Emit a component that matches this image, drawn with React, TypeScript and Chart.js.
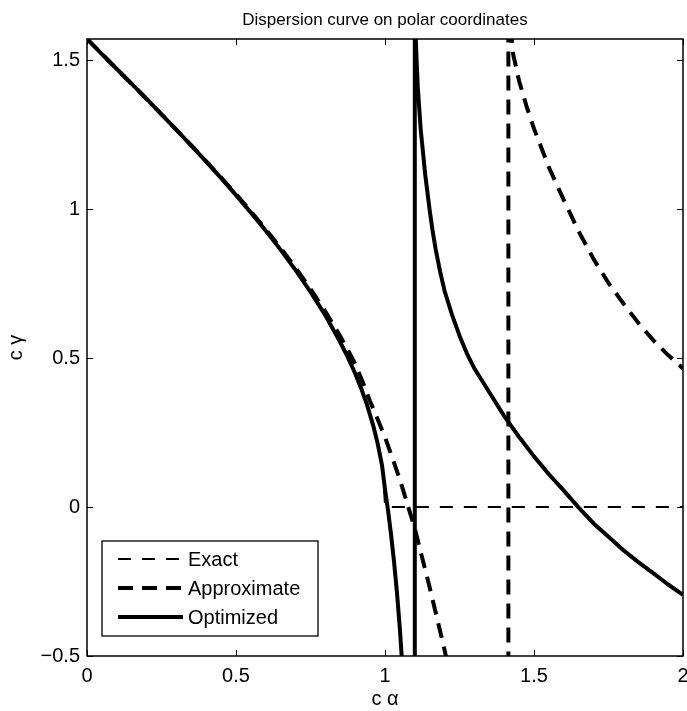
import React, { useEffect, useRef } from "react";
import { Chart, registerables } from "chart.js";

Chart.register(...registerables);

const TITLE = "Dispersion curve on polar coordinates";
const X_LABEL = "c α";
const Y_LABEL = "c γ";

const X_MIN = 0;
const X_MAX = 2;
const Y_MIN = -0.5;
const Y_MAX = 1.5708;
const X_TICKS = [0, 0.5, 1, 1.5, 2];
const Y_TICKS = [-0.5, 0, 0.5, 1, 1.5];

const SERIES_NAMES = ["Exact", "Approximate", "Optimized"];

// Exact
const exactX = [0, 0.05, 0.1, 0.15, 0.2, 0.25, 0.3, 0.35, 0.4, 0.45, 0.5, 0.55, 0.6, 0.65, 0.7, 0.75, 0.8, 0.85, 0.875, 0.9, 0.92, 0.94, 0.96, 0.975, 0.985, 0.993, 1.0, 1.5, 2.0];
const exactY = [1.571, 1.521, 1.47, 1.42, 1.37, 1.318, 1.266, 1.213, 1.159, 1.104, 1.047, 0.988, 0.927, 0.863, 0.795, 0.723, 0.644, 0.555, 0.505, 0.451, 0.403, 0.348, 0.284, 0.224, 0.173, 0.118, 0, 0, 0];

// Approximate
const approxX = [0, 0.05, 0.1, 0.15, 0.2, 0.25, 0.3, 0.35, 0.4, 0.45, 0.5, 0.55, 0.6, 0.65, 0.7, 0.75, 0.8, 0.85, 0.875, 0.9, 0.925, 0.95, 1.0, 1.05, 1.1, 1.15, 1.2, 1.25, 1.3, 1.414, 1.414, 1.418, 1.43, 1.45, 1.475, 1.5, 1.55, 1.6, 1.65, 1.7, 1.75, 1.8, 1.85, 1.9, 1.95, 2.0];
const approxY = [1.571, 1.521, 1.47, 1.42, 1.37, 1.318, 1.266, 1.214, 1.16, 1.106, 1.05, 0.992, 0.932, 0.869, 0.803, 0.732, 0.656, 0.573, 0.528, 0.48, 0.42, 0.355, 0.235, 0.092, -0.072, -0.27, -0.48, -0.72, -1.05, -4, 4, 1.65, 1.52, 1.43, 1.345, 1.27, 1.14, 1.03, 0.925, 0.832, 0.752, 0.683, 0.618, 0.56, 0.51, 0.465];

// Optimized
const optX = [0, 0.05, 0.1, 0.15, 0.2, 0.25, 0.3, 0.35, 0.4, 0.45, 0.5, 0.55, 0.6, 0.65, 0.7, 0.75, 0.8, 0.85, 0.875, 0.9, 0.92, 0.94, 0.96, 0.975, 0.99, 1.0, 1.01, 1.02, 1.03, 1.04, 1.05, 1.06, 1.07, 1.08, 1.1, 1.1, 1.103, 1.106, 1.11, 1.12, 1.135, 1.15, 1.16, 1.17, 1.185, 1.2, 1.225, 1.25, 1.275, 1.3, 1.35, 1.4, 1.45, 1.5, 1.55, 1.6, 1.65, 1.7, 1.75, 1.8, 1.85, 1.9, 1.95, 2.0];
const optY = [1.571, 1.52, 1.47, 1.42, 1.37, 1.318, 1.266, 1.213, 1.159, 1.104, 1.047, 0.988, 0.927, 0.863, 0.795, 0.722, 0.643, 0.553, 0.503, 0.448, 0.398, 0.342, 0.275, 0.215, 0.14, 0.06, -0.01, -0.09, -0.18, -0.285, -0.41, -0.56, -0.74, -0.97, -3, 3, 1.58, 1.5, 1.41, 1.265, 1.115, 0.995, 0.925, 0.865, 0.79, 0.725, 0.645, 0.575, 0.515, 0.465, 0.385, 0.305, 0.235, 0.17, 0.11, 0.055, -0.002, -0.055, -0.1, -0.145, -0.185, -0.222, -0.26, -0.295];

const FONT = "'Liberation Sans', Arial, Helvetica, sans-serif";

const STYLES = [
  { width: 1.8, dash: [13, 11] },
  { width: 4, dash: [15, 9] },
  { width: 4, dash: [] as number[] },
];

function pts(xs: number[], ys: number[]) {
  return xs.map((x, i) => ({ x, y: ys[i] }));
}

const fmt = (v: number) => String(v).replace("-", "\u2212");

const boxPlugin = {
  id: "matlabBox",
  afterDraw(chart: any) {
    const { ctx, chartArea: a, scales } = chart;
    const xs = scales.x;
    const ys = scales.y;
    ctx.save();
    ctx.strokeStyle = "#000";
    ctx.lineWidth = 1;
    const tl = 6;
    ctx.beginPath();
    for (const v of X_TICKS) {
      const px = Math.round(xs.getPixelForValue(v)) + 0.5;
      ctx.moveTo(px, a.bottom);
      ctx.lineTo(px, a.bottom - tl);
      ctx.moveTo(px, a.top);
      ctx.lineTo(px, a.top + tl);
    }
    for (const v of Y_TICKS) {
      const py = Math.round(ys.getPixelForValue(v)) + 0.5;
      ctx.moveTo(a.left, py);
      ctx.lineTo(a.left + tl, py);
      ctx.moveTo(a.right, py);
      ctx.lineTo(a.right - tl, py);
    }
    ctx.stroke();
    ctx.lineWidth = 1.5;
    ctx.strokeRect(a.left, a.top, a.right - a.left, a.bottom - a.top);

    // legend
    const lx = a.left + 15;
    const ly = a.bottom - 115;
    const lw = 216;
    const lh = 95;
    ctx.fillStyle = "#fff";
    ctx.fillRect(lx, ly, lw, lh);
    ctx.lineWidth = 1.3;
    ctx.strokeRect(lx, ly, lw, lh);
    ctx.font = "20px " + FONT;
    ctx.textBaseline = "middle";
    ctx.textAlign = "left";
    ctx.fillStyle = "#000";
    SERIES_NAMES.forEach((name, i) => {
      const yy = ly + 18 + i * 29;
      const st = STYLES[i];
      ctx.beginPath();
      ctx.lineWidth = st.width;
      ctx.setLineDash(st.dash);
      ctx.moveTo(lx + 16, yy);
      ctx.lineTo(lx + 81, yy);
      ctx.stroke();
      ctx.setLineDash([]);
      ctx.fillText(name, lx + 86, yy + 1);
    });
    ctx.restore();
  },
};

export default function App() {
  const ref = useRef<HTMLCanvasElement>(null);
  useEffect(() => {
    document.body.style.margin = "0";
    const canvas = ref.current!;
    const series = [pts(exactX, exactY), pts(approxX, approxY), pts(optX, optY)];
    const chart = new Chart(canvas, {
      type: "scatter",
      data: {
        datasets: series.map((d, i) => ({
          label: SERIES_NAMES[i],
          data: d,
          showLine: true,
          borderColor: "#000",
          backgroundColor: "#000",
          borderWidth: STYLES[i].width,
          borderDash: STYLES[i].dash,
          borderJoinStyle: "round",
          pointRadius: 0,
          tension: 0,
          fill: false,
          clip: 0,
        })),
      },
      options: {
        animation: false,
        responsive: false,
        devicePixelRatio: 1,
        layout: { padding: { left: 0, right: 4, top: 0, bottom: 0 } },
        font: { family: FONT },
        plugins: {
          legend: { display: false },
          tooltip: { enabled: false },
          title: {
            display: true,
            fullSize: false,
            text: TITLE,
            color: "#000",
            font: { family: FONT, size: 17, weight: "normal", lineHeight: 1.25 },
            padding: { top: 10, bottom: 7.75 },
          },
        },
        scales: {
          x: {
            type: "linear",
            min: X_MIN,
            max: X_MAX,
            afterBuildTicks: (s: any) => {
              s.ticks = X_TICKS.map((v) => ({ value: v }));
            },
            afterFit: (s: any) => {
              s.height = 55;
              s.paddingLeft = 0;
              s.paddingRight = 0;
            },
            grid: { display: false, drawTicks: false, tickLength: 0 },
            border: { display: false },
            ticks: {
              color: "#000",
              font: { family: FONT, size: 20 },
              padding: 8,
              maxRotation: 0,
              autoSkip: false,
              callback: (v: any) => fmt(Number(v)),
            },
            title: {
              display: true,
              text: X_LABEL,
              color: "#000",
              font: { family: FONT, size: 20, lineHeight: 1 },
              padding: { top: 0, bottom: 2 },
            },
          },
          y: {
            type: "linear",
            min: Y_MIN,
            max: Y_MAX,
            afterBuildTicks: (s: any) => {
              s.ticks = Y_TICKS.map((v) => ({ value: v }));
            },
            afterFit: (s: any) => {
              s.width = 87;
              s.paddingTop = 0;
              s.paddingBottom = 0;
            },
            grid: { display: false, drawTicks: false, tickLength: 0 },
            border: { display: false },
            ticks: {
              color: "#000",
              font: { family: FONT, size: 20 },
              padding: 7,
              autoSkip: false,
              callback: (v: any) => fmt(Number(v)),
            },
            title: {
              display: true,
              text: Y_LABEL,
              color: "#000",
              font: { family: FONT, size: 20, lineHeight: 1 },
              padding: { top: 6, bottom: 0 },
            },
          },
        },
      } as any,
      plugins: [boxPlugin],
    });
    return () => chart.destroy();
  }, []);
  return (
    <div style={{ width: 687, height: 711 }}>
      <canvas ref={ref} width={687} height={711} style={{ display: "block" }} />
    </div>
  );
}
